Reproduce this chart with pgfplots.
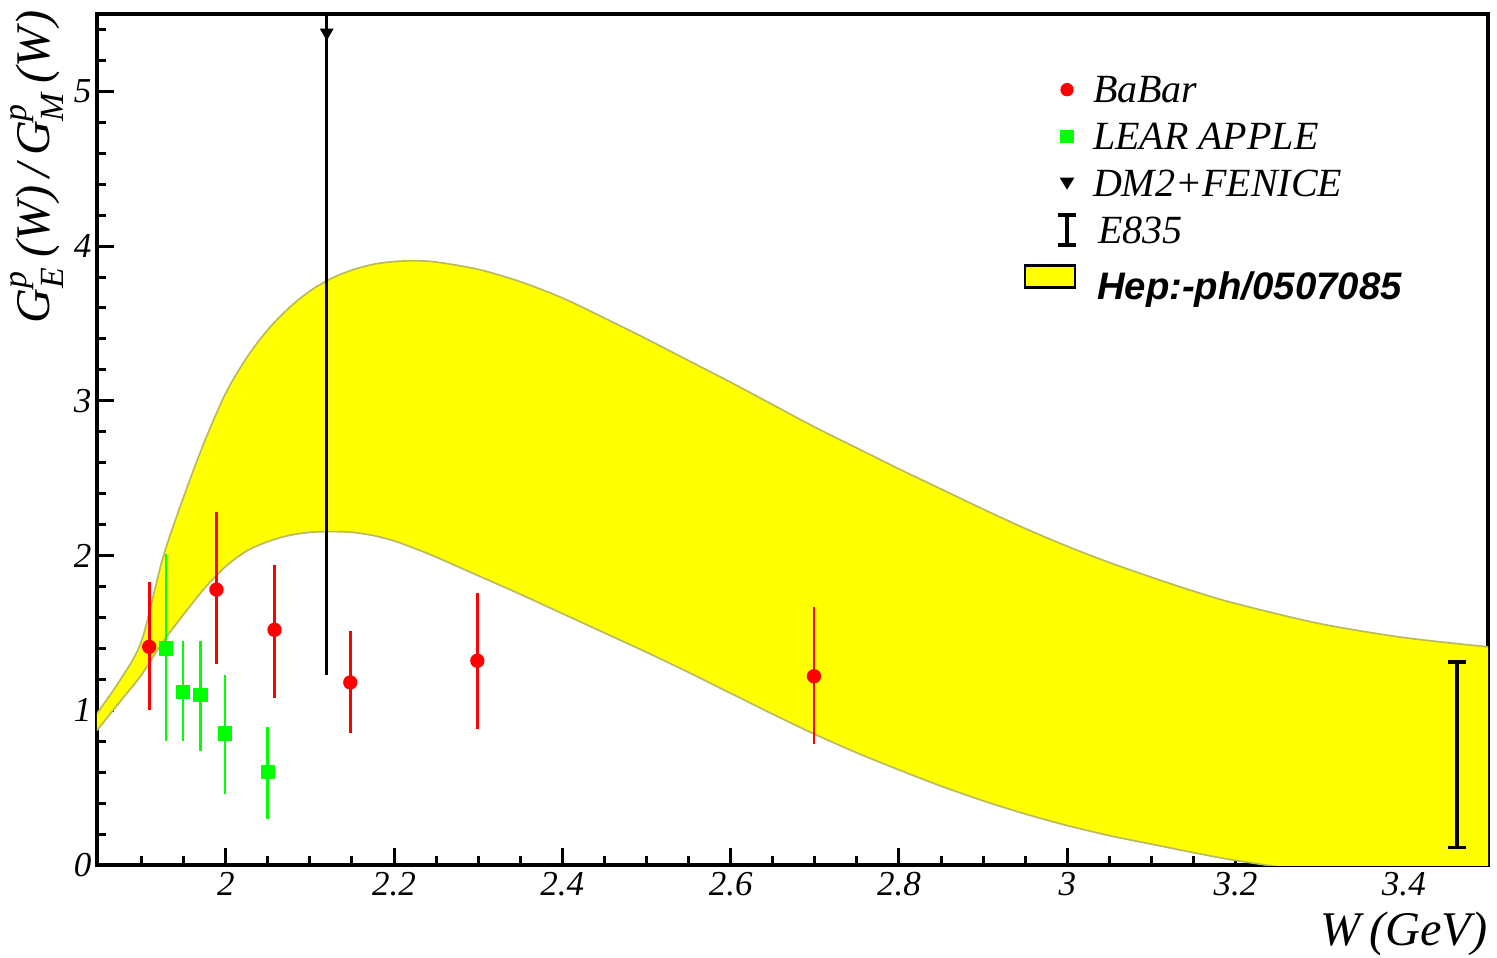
\documentclass[border=0pt]{standalone}
\usepackage{fontspec}
\setmainfont{Liberation Serif}
\newfontfamily\arialfont{Liberation Sans}
\usepackage{amsmath}
\usepackage{pgfplots}
\pgfplotsset{compat=1.18}
\usepgfplotslibrary{fillbetween}
\usepackage{pgfplotstable}
\definecolor{rootred}{RGB}{255,0,0}
\definecolor{rootgreen}{RGB}{0,255,0}
\definecolor{rootyellow}{RGB}{255,255,0}
\definecolor{bandedge}{RGB}{185,185,95}

\pgfplotstableread{
x up lo
1.847 0.98 0.87
1.875 1.20 1.06
1.900 1.45 1.23
1.925 1.98 1.44
1.950 2.38 1.62
1.975 2.74 1.79
2.000 3.05 1.93
2.025 3.28 2.03
2.050 3.46 2.09
2.075 3.60 2.13
2.100 3.71 2.15
2.125 3.79 2.155
2.150 3.845 2.15
2.175 3.882 2.13
2.200 3.90 2.095
2.225 3.905 2.045
2.250 3.897 1.99
2.300 3.85 1.87
2.350 3.77 1.75
2.400 3.665 1.625
2.450 3.535 1.50
2.500 3.40 1.375
2.550 3.26 1.245
2.600 3.12 1.11
2.650 2.975 0.975
2.700 2.83 0.845
2.750 2.695 0.725
2.800 2.56 0.615
2.850 2.43 0.51
2.900 2.30 0.415
2.950 2.175 0.33
3.000 2.06 0.255
3.050 1.955 0.19
3.100 1.86 0.135
3.150 1.77 0.08
3.200 1.69 0.03
3.300 1.56 -0.05
3.400 1.47 -0.11
3.500 1.41 -0.16
}\band

\begin{document}
\begin{tikzpicture}
\begin{axis}[
  at={(0,0)}, anchor=south west,
  scale only axis, width=417.3pt, height=255.3pt,
  xmin=1.847, xmax=3.5, ymin=0, ymax=5.5,
  axis line style={line width=1.1pt},
  xtick={2,2.2,2.4,2.6,2.8,3,3.2,3.4},
  minor xtick={1.9,1.95,2.05,2.1,2.15,2.25,2.3,2.35,2.45,2.5,2.55,2.65,2.7,2.75,2.85,2.9,2.95,3.05,3.1,3.15,3.25,3.3,3.35,3.45},
  ytick={0,1,2,3,4,5},
  minor ytick={0.2,0.4,0.6,0.8,1.2,1.4,1.6,1.8,2.2,2.4,2.6,2.8,3.2,3.4,3.6,3.8,4.2,4.4,4.6,4.8,5.2,5.4},
  tick align=inside, xtick pos=bottom, ytick pos=left,
  major tick length=5pt, minor tick length=2.8pt,
  tick style={black, line width=0.9pt},
  tick label style={font=\fontsize{10.5}{12}\selectfont\itshape},
  /pgf/number format/assume math mode=true,
  xticklabel style={inner sep=2pt},
  yticklabel style={inner xsep=1.5pt},
  ylabel={\fontsize{14.5}{16}\selectfont\itshape G$^{\text{\itshape p}}_{\text{\itshape E}}$\,(W)\,/\,G$^{\text{\itshape p}}_{\text{\itshape M}}$\,(W)},
  ylabel style={at={(axis description cs:-0.0338,1.0047)}, anchor=base east, inner sep=0pt},
  xlabel={\fontsize{14.5}{16}\selectfont\itshape W\,(GeV)},
  xlabel style={at={(axis description cs:1,-0.094)}, anchor=base east, inner sep=0pt},
  legend cell align=left,
  legend style={at={(axis description cs:0.6638,0.9307)}, anchor=north west,
    draw=none, fill=none, inner sep=0pt, outer sep=0pt,
    row sep=4pt, column sep=0pt,
    font=\fontsize{12}{14}\selectfont\itshape,
    nodes={inner sep=0pt, text height=9pt, text depth=1pt}},
]
% band
\addplot[draw=none, name path=up, forget plot, smooth] table[x=x,y=up]{\band};
\addplot[draw=none, name path=lo, forget plot, smooth] table[x=x,y=lo]{\band};
\addplot[rootyellow, forget plot] fill between[of=up and lo];
\addplot[bandedge, line width=0.5pt, smooth, forget plot] table[x=x,y=up]{\band};
\addplot[bandedge, line width=0.5pt, smooth, forget plot] table[x=x,y=lo]{\band};

% BaBar
\addplot[only marks, mark=*, mark size=1.95pt, color=rootred,
  mark options={draw=rootred, fill=rootred},
  legend image code/.code={\path[draw=none,fill=none] (-14pt,-3pt) rectangle (7.8pt,3pt);
     \path[fill=rootred,draw=none] (0pt,0pt) circle[radius=2pt];},
  error bars/.cd, y dir=both, y explicit, error mark=none,
  error bar style={line width=0.8pt, rootred}]
coordinates {
(1.909,1.41) += (0,0.42) -= (0,0.41)
(1.989,1.78) += (0,0.50) -= (0,0.48)
(2.058,1.52) += (0,0.42) -= (0,0.44)
(2.148,1.18) += (0,0.33) -= (0,0.33)
(2.299,1.32) += (0,0.44) -= (0,0.44)
(2.699,1.22) += (0,0.45) -= (0,0.44)
};
\addlegendentry{BaBar}

% LEAR
\addplot[only marks, mark=square*, mark size=1.95pt, color=rootgreen,
  mark options={draw=rootgreen, fill=rootgreen},
  legend image code/.code={\path[draw=none,fill=none] (-14pt,-3pt) rectangle (7.8pt,3pt);
     \path[fill=rootgreen,draw=none] (-2pt,-2pt) rectangle (2pt,2pt);},
  error bars/.cd, y dir=both, y explicit, error mark=none,
  error bar style={line width=0.8pt, rootgreen}]
coordinates {
(1.929,1.40) += (0,0.61) -= (0,0.60)
(1.949,1.12) += (0,0.33) -= (0,0.32)
(1.970,1.10) += (0,0.35) -= (0,0.36)
(1.999,0.85) += (0,0.38) -= (0,0.39)
(2.050,0.60) += (0,0.29) -= (0,0.30)
};
\addlegendentry{LEAR APPLE}

% DM2+FENICE
\addplot[only marks, mark=triangle*, mark size=2pt, color=black,
  mark options={rotate=180, draw=black, fill=black},
  legend image code/.code={\path[draw=none,fill=none] (-14pt,-3pt) rectangle (7.8pt,3pt);
     \path[fill=black,draw=none] (0pt,-2pt) -- (-2.2pt,1.6pt) -- (2.2pt,1.6pt) -- cycle;},
  error bars/.cd, y dir=both, y explicit, error mark=none,
  error bar style={line width=1pt, black}]
coordinates {
(2.120,5.38) += (0,1.00) -= (0,4.15)
};
\addlegendentry{DM2+FENICE}

% E835
\addplot[draw=none, mark=none, color=black,
  legend image code/.code={\path[draw=none,fill=none] (-14pt,-3pt) rectangle (7.8pt,3pt);
     \path[draw=black, line width=1.1pt] (0pt,-4.5pt) -- (0pt,4.5pt)
       (-2.8pt,-4.5pt) -- (2.8pt,-4.5pt) (-2.8pt,4.5pt) -- (2.8pt,4.5pt);},
  error bars/.cd, y dir=both, y explicit, error mark=-,
  error mark options={rotate=90, black, line width=1.1pt, mark size=2.75pt},
  error bar style={line width=1.2pt, black}]
coordinates {
(3.463,0.713) +- (0,0.599)
};
\addlegendentry{\hspace*{1.5pt}E835}

\addlegendimage{legend image code/.code={\path[draw=none,fill=none] (-14pt,-3pt) rectangle (7.8pt,3pt);
   \path[draw=black, line width=0.8pt, fill=rootyellow] (-12.6pt,-3.3pt) rectangle (2.4pt,3.3pt);}}
\addlegendentry{\raisebox{-3pt}{\hspace*{1.2pt}\arialfont\bfseries\itshape\fontsize{11.5}{13}\selectfont Hep:-ph/0507085}}
\end{axis}
\pgfresetboundingbox
\path (-29.1pt,-27.6pt) rectangle (420pt,259.5pt);
\end{tikzpicture}
\end{document}
